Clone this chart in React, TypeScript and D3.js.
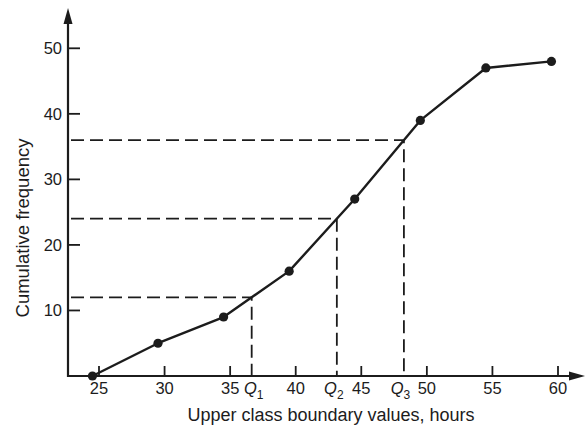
import * as d3 from 'd3';

const boundaries = [24.5, 29.5, 34.5, 39.5, 44.5, 49.5, 54.5, 59.5];
const cumFreq = [0, 5, 9, 16, 27, 39, 47, 48];
const xTicks = [25, 30, 35, 40, 45, 50, 55, 60];
const yTicks = [10, 20, 30, 40, 50];
const quartileNames = ['1', '2', '3'];
const quartileFreqs = [12, 24, 36];

const ink = '#1c1c1c';
const font = '"Liberation Sans", Arial, Helvetica, sans-serif';

// linear interpolation of the ogive to find the boundary value at a given frequency
const valueAt = (f: number) => {
  for (let i = 1; i < cumFreq.length; i++) {
    if (f <= cumFreq[i]) {
      const t = (f - cumFreq[i - 1]) / (cumFreq[i] - cumFreq[i - 1]);
      return boundaries[i - 1] + t * (boundaries[i] - boundaries[i - 1]);
    }
  }
  return boundaries[boundaries.length - 1];
};

const App = () => {
  const x0 = 68;
  const y0 = 376;
  const x = d3.scaleLinear().domain([25, 60]).range([99, 558]);
  const y = d3.scaleLinear().domain([0, 50]).range([y0, 48.3]);

  const line = d3.line<number>()
    .x((_, i) => x(boundaries[i]))
    .y(d => y(d));

  const quartiles = quartileFreqs.map((f, i) => ({ name: quartileNames[i], freq: f, value: valueAt(f) }));
  // small nudges so the Q labels clear the neighbouring tick labels
  const labelNudge = [2, -3, -3.5];

  return (
    <svg width={588} height={428} style={{ position: 'absolute', left: 0, top: 0, background: '#fff' }}
      fontFamily={font} fill={ink}>
      {/* dashed quartile guides */}
      {quartiles.map(q => (
        <path key={q.name}
          d={`M${x0 + 3},${y(q.freq)}H${x(q.value)}V${y0}`}
          fill="none" stroke={ink} strokeWidth={1.8} strokeDasharray="13,6" />
      ))}

      {/* axes */}
      <line x1={x0} x2={x0} y1={y0 + 1} y2={20} stroke={ink} strokeWidth={2.2} />
      <path d={`M${x0},8 L${x0 - 4.5},24 L${x0 + 4.5},24 Z`} fill={ink} />
      <line x1={x0 - 1} x2={572} y1={y0} y2={y0} stroke={ink} strokeWidth={2.2} />
      <path d={`M585,${y0} L569,${y0 - 4.5} L569,${y0 + 4.5} Z`} fill={ink} />

      {/* y ticks */}
      {yTicks.map(t => (
        <g key={t}>
          <line x1={x0} x2={x0 + 12} y1={y(t)} y2={y(t)} stroke={ink} strokeWidth={1.8} />
          <text x={x0 - 6} y={y(t)} dy="0.36em" textAnchor="end" fontSize={16.5}>{t}</text>
        </g>
      ))}

      {/* x ticks */}
      {xTicks.map(t => (
        <g key={t}>
          <line x1={x(t)} x2={x(t)} y1={y0} y2={y0 - 10} stroke={ink} strokeWidth={1.8} />
          <text x={x(t)} y={y0 + 18} textAnchor="middle" fontSize={16.5}>{t}</text>
        </g>
      ))}

      {/* quartile labels */}
      {quartiles.map((q, i) => (
        <text key={q.name} x={x(q.value) + labelNudge[i]} y={y0 + 18} textAnchor="middle" fontSize={16.5}>
          <tspan fontStyle="italic">Q</tspan>
          <tspan fontSize={12} dy={5}>{q.name}</tspan>
        </text>
      ))}

      {/* ogive */}
      <path d={line(cumFreq) ?? ''} fill="none" stroke={ink} strokeWidth={2.4} strokeLinejoin="round" />
      {cumFreq.map((d, i) => (
        <circle key={i} cx={x(boundaries[i])} cy={y(d)} r={4.6} fill={ink} />
      ))}

      {/* axis titles */}
      <text x={331} y={421} textAnchor="middle" fontSize={18}>Upper class boundary values, hours</text>
      <text transform="translate(29,228) rotate(-90)" textAnchor="middle" fontSize={18.5}>Cumulative frequency</text>
    </svg>
  );
};

export default App;
